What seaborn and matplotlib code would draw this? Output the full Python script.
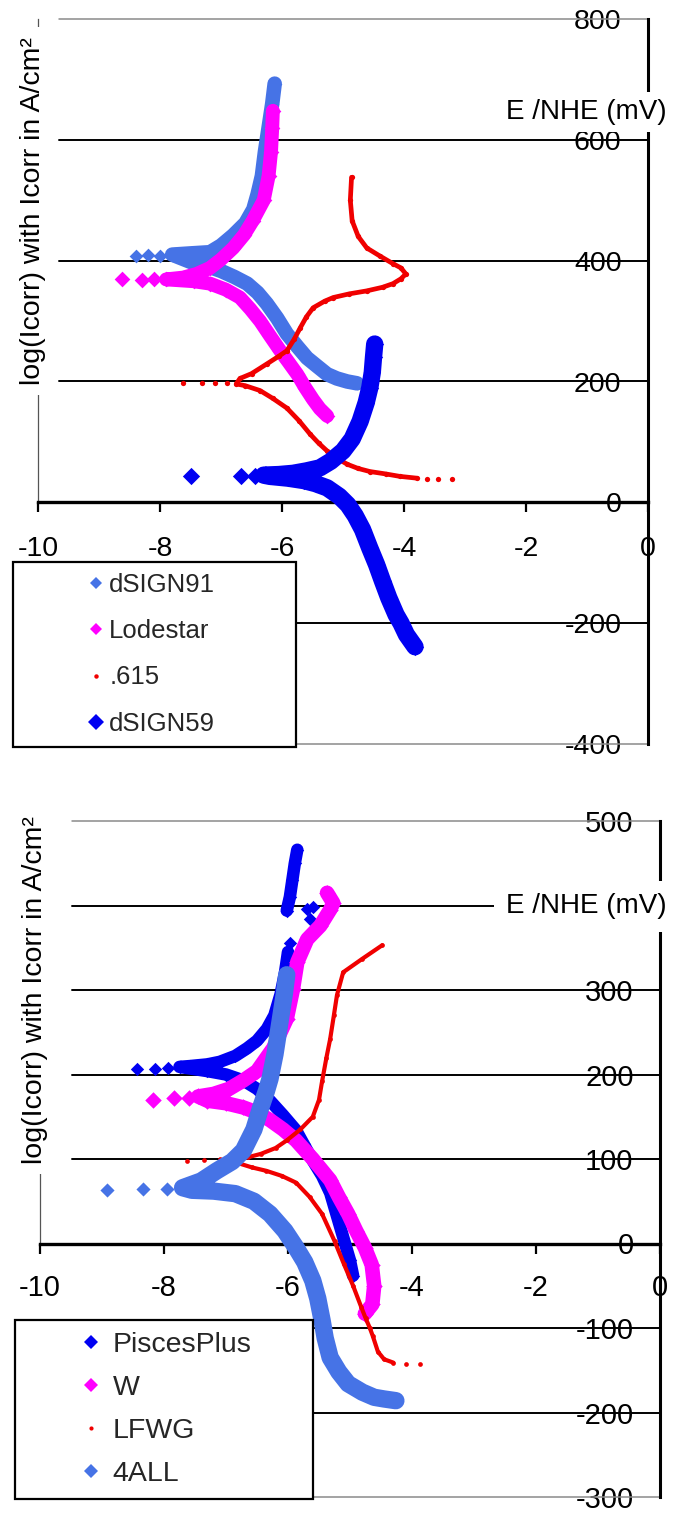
import matplotlib
matplotlib.use("Agg")
import matplotlib.pyplot as plt
import numpy as np
import pandas as pd
import seaborn as sns
from matplotlib.lines import Line2D

# ------------------------------------------------------------------ data
# x = log(Icorr) [A/cm2], E = potential vs NHE [mV]
# ---- top panel
d91_cat_x = [-4.77, -4.93, -5.10, -5.26, -5.42, -5.59, -5.75, -5.92, -6.08, -6.25, -6.40, -6.57, -6.78, -7.00, -7.25, -7.50]
d91_cat_E = [197, 200, 205, 212, 225, 239, 258, 279, 305, 329, 347, 362, 373, 383, 392, 398]
d91_eco_x = [-8.40, -8.20, -8.00]
d91_eco_E = [407, 409, 408]
d91_ano_x = [-7.80, -7.50, -7.18, -7.00, -6.80, -6.60, -6.47, -6.40, -6.33, -6.28, -6.22, -6.16, -6.12]
d91_ano_E = [410, 412, 414, 425, 442, 462, 485, 510, 540, 580, 620, 660, 693]

lod_cat_x = [-5.26, -5.38, -5.49, -5.62, -5.75, -5.90, -6.03, -6.20, -6.36, -6.52, -6.69, -6.92, -7.18, -7.45]
lod_cat_E = [143, 155, 170, 190, 212, 233, 251, 276, 300, 320, 339, 352, 362, 366]
lod_eco_x = [-8.62, -8.30, -8.10]
lod_eco_E = [370, 368, 369]
lod_ano_x = [-7.90, -7.62, -7.40, -7.18, -7.00, -6.80, -6.62, -6.48, -6.30, -6.22, -6.18, -6.16, -6.15]
lod_ano_E = [369, 372, 378, 388, 402, 421, 443, 466, 500, 540, 580, 620, 648]

r615_cat_x = [-3.79, -4.07, -4.30, -4.56, -4.75, -4.93, -5.10, -5.26, -5.40, -5.54, -5.72, -5.92, -6.15, -6.36, -6.60, -6.75]
r615_cat_E = [40, 43, 47, 51, 56, 63, 73, 85, 98, 113, 135, 156, 172, 185, 193, 196]
r615_eco_x = [-3.21, -3.44, -3.62, -7.62, -7.31, -7.10, -6.90]
r615_eco_E = [38, 38, 38, 197, 197, 197, 197]
r615_ano_x = [-6.69, -6.50, -6.25, -6.05, -5.92, -5.80, -5.70, -5.60, -5.49, -5.30, -5.16, -4.90, -4.61, -4.35,
              -4.18, -4.05, -3.97, -4.05, -4.18, -4.40, -4.61, -4.75, -4.85, -4.88, -4.86]
r615_ano_E = [205, 213, 229, 242, 251, 270, 289, 307, 322, 333, 339, 345, 350, 356,
              362, 370, 378, 388, 395, 408, 421, 440, 466, 500, 538]

d59_cat_x = [-3.82, -3.96, -4.05, -4.13, -4.25, -4.35, -4.45, -4.56, -4.68, -4.80, -4.92, -5.06, -5.26, -5.45, -5.64, -5.90, -6.20]
d59_cat_E = [-239, -219, -200, -186, -158, -131, -103, -76, -45, -22, -4, 10, 24, 31, 36, 40, 43]
d59_eco_x = [-7.49, -6.67, -6.45]
d59_eco_E = [43, 43, 44]
d59_ano_x = [-6.30, -6.05, -5.82, -5.60, -5.38, -5.20, -5.00, -4.85, -4.72, -4.62, -4.56, -4.52, -4.50, -4.48]
d59_ano_E = [45, 46, 48, 52, 57, 68, 85, 105, 134, 165, 190, 215, 240, 262]

# ---- bottom panel
pis_cat_x = [-4.95, -5.00, -5.08, -5.20, -5.32, -5.45, -5.60, -5.75, -5.87, -6.08, -6.29, -6.50, -6.72, -7.00, -7.30]
pis_cat_E = [-38, -20, 0, 30, 60, 80, 98, 118, 134, 152, 169, 183, 193, 200, 204]
pis_eco_x = [-8.44, -8.15, -7.94, -5.97, -5.65, -5.69, -5.60]
pis_eco_E = [207, 206, 208, 356, 384, 396, 398]
pis_ano_x = [-7.75, -7.58, -7.30, -7.10, -6.85, -6.66, -6.50, -6.34, -6.22, -6.12, -6.05, -6.00]
pis_ano_E = [209, 210, 212, 215, 222, 231, 240, 254, 270, 295, 320, 345]
pis_top_x = [-6.02, -5.97, -5.93, -5.89, -5.85]
pis_top_E = [394, 410, 430, 450, 466]

w_cat_x = [-4.76, -4.64, -4.61, -4.65, -4.76, -4.90, -5.03, -5.18, -5.32, -5.60, -5.87, -6.08, -6.29, -6.50, -6.72, -7.00, -7.30]
w_cat_E = [-83, -72, -50, -25, -5, 15, 35, 55, 75, 100, 122, 135, 146, 155, 161, 166, 169]
w_eco_x = [-8.18, -7.84, -7.60]
w_eco_E = [170, 172, 172]
w_ano_x = [-7.45, -7.20, -6.95, -6.72, -6.50, -6.24, -6.02, -5.92, -5.85, -5.69, -5.48, -5.32, -5.27, -5.37]
w_ano_E = [174, 177, 183, 193, 204, 231, 266, 301, 333, 360, 376, 395, 403, 415]

lf_cat_x = [-4.30, -4.45, -4.55, -4.63, -4.68, -4.75, -4.82, -4.95, -5.10, -5.25, -5.45, -5.65, -5.87, -6.10, -6.35, -6.58, -6.80]
lf_cat_E = [-141, -137, -128, -110, -100, -88, -75, -50, -24, 3, 35, 55, 72, 80, 86, 90, 95]
lf_eco_x = [-3.87, -4.10, -7.63, -7.35, -7.10]
lf_eco_E = [-143, -143, 98, 99, 100]
lf_ano_x = [-6.90, -6.65, -6.44, -6.20, -6.02, -5.80, -5.60, -5.50, -5.45, -5.38, -5.32, -5.26, -5.21, -5.11, -4.80, -4.48]
lf_ano_E = [100, 102, 106, 113, 122, 135, 150, 170, 192, 220, 242, 270, 294, 321, 337, 353]

all4_cat_x = [-4.26, -4.45, -4.61, -4.80, -5.03, -5.18, -5.32, -5.40, -5.45, -5.52, -5.60, -5.73, -5.87, -6.05, -6.29, -6.55, -6.85, -7.20, -7.55]
all4_cat_E = [-186, -184, -182, -176, -166, -152, -135, -112, -91, -65, -44, -22, -5, 15, 35, 50, 59, 62, 63]
all4_eco_x = [-8.92, -8.34, -7.95]
all4_eco_E = [63, 64, 65]
all4_ano_x = [-7.70, -7.40, -7.15, -6.90, -6.72, -6.55, -6.44, -6.35, -6.29, -6.21, -6.13, -6.06, -6.02]
all4_ano_E = [66, 74, 86, 97, 110, 135, 161, 180, 195, 224, 262, 295, 318]

top_names = ["dSIGN91", "Lodestar", ".615", "dSIGN59"]
bot_names = ["PiscesPlus", "W", "LFWG", "4ALL"]
xticks = [-10, -8, -6, -4, -2, 0]
top_yticks = [-400, -200, 0, 200, 400, 600, 800]
bot_yticks = [-300, -200, -100, 0, 100, 200, 300, 400, 500]
top_ylabels = ["-400", "-200", "0", "200", "400", "600", "800"]
bot_ylabels = ["-300", "-200", "-100", "0", "100", "200", "300", "", "500"]  # 400 hidden under title box
xlabel_text = "log(Icorr) with Icorr in A/cm²"
ylabel_text = "E /NHE (mV)"

# ------------------------------------------------------------------ styles
LBLUE, MAG, RED, DBLUE = "#4673E6", "#FF00FF", "#F00000", "#0000F2"

top_series = [
    ("dSIGN91", [(d91_cat_x + d91_ano_x, d91_cat_E + d91_ano_E)], (d91_eco_x, d91_eco_E)),
    ("Lodestar", [(lod_cat_x + lod_ano_x, lod_cat_E + lod_ano_E)], (lod_eco_x, lod_eco_E)),
    (".615", [(r615_cat_x + r615_ano_x, r615_cat_E + r615_ano_E)], (r615_eco_x, r615_eco_E)),
    ("dSIGN59", [(d59_cat_x + d59_ano_x, d59_cat_E + d59_ano_E)], (d59_eco_x, d59_eco_E)),
]
bot_series = [
    ("PiscesPlus", [(pis_cat_x + pis_ano_x, pis_cat_E + pis_ano_E), (pis_top_x, pis_top_E)], (pis_eco_x, pis_eco_E)),
    ("W", [(w_cat_x + w_ano_x, w_cat_E + w_ano_E)], (w_eco_x, w_eco_E)),
    ("LFWG", [(lf_cat_x + lf_ano_x, lf_cat_E + lf_ano_E)], (lf_eco_x, lf_eco_E)),
    ("4ALL", [(all4_cat_x + all4_ano_x, all4_cat_E + all4_ano_E)], (all4_eco_x, all4_eco_E)),
]
STY = {
    "dSIGN91": dict(color=LBLUE, lw=10.5, ms=7.0, marker="D", lms=6.6),
    "Lodestar": dict(color=MAG, lw=10, ms=8.0, marker="D", lms=6.6),
    ".615": dict(color=RED, lw=3.4, ms=3.8, marker="o", lms=3.2),
    "dSIGN59": dict(color=DBLUE, lw=12.5, ms=8.8, marker="D", lms=8.4),
    "PiscesPlus": dict(color=DBLUE, lw=9, ms=6.8, marker="D", lms=7.2),
    "W": dict(color=MAG, lw=10.5, ms=8.4, marker="D", lms=7.2),
    "LFWG": dict(color=RED, lw=3.0, ms=3.4, marker="o", lms=3.0),
    "4ALL": dict(color=LBLUE, lw=12.5, ms=7.2, marker="D", lms=7.2),
}

sns.set_theme(style="white")
plt.rcParams["font.family"] = ["Liberation Sans", "DejaVu Sans"]
plt.rcParams["axes.unicode_minus"] = False

W_PX, H_PX = 673, 1520
fig = plt.figure(figsize=(W_PX / 100, H_PX / 100), dpi=100)


def fx(px):
    return px / W_PX


def fy(py):
    return 1 - py / H_PX


def panel(ax, series, ylim, yticks, ylabels, fs_tick, xpad, grid_start, lab_cy, nhe_pos, nhe_pad,
          leg_box, leg_fs, leg_hl, leg_htp, leg_ls):
    for i, (name, dense, sparse) in enumerate(series):
        st = STY[name]
        z = 3 + i
        for bx, bE in dense:
            df = pd.DataFrame({"logi": bx, "E": bE})
            sns.lineplot(data=df, x="logi", y="E", sort=False, estimator=None, ax=ax,
                         color=st["color"], linewidth=st["lw"], zorder=z,
                         solid_joinstyle="round", solid_capstyle="round", legend=False)
        allx = [v for bx, _ in dense for v in bx] + list(sparse[0])
        allE = [v for _, bE in dense for v in bE] + list(sparse[1])
        pts = pd.DataFrame({"logi": allx, "E": allE})
        sns.scatterplot(data=pts, x="logi", y="E", ax=ax, marker=st["marker"],
                        s=st["ms"] ** 2, color=st["color"], linewidth=0, zorder=z, legend=False)

    ax.set_xlim(-10, 0)
    ax.set_ylim(*ylim)
    ax.set_xticks(xticks)
    ax.set_yticks(yticks)
    ax.set_yticklabels(ylabels)
    ax.set_xlabel("")
    ax.set_ylabel("")
    ax.set_facecolor("none")

    # gridlines
    for y in yticks:
        if y == 0:
            continue
        edge = y in (ylim[0], ylim[1])
        ax.axhline(y, xmin=grid_start, xmax=1, color="#8a8a8a" if edge else "black",
                   lw=1.1 if edge else 1.4, zorder=1, clip_on=False)

    # spines
    ax.spines["top"].set_visible(False)
    ax.spines["bottom"].set_position(("data", 0))
    ax.spines["bottom"].set_color("black")
    ax.spines["bottom"].set_linewidth(2.4)
    ax.spines["right"].set_visible(True)
    ax.spines["right"].set_color("black")
    ax.spines["right"].set_linewidth(2.2)
    ax.spines["left"].set_visible(True)
    ax.spines["left"].set_bounds(0, ylim[1])
    ax.spines["left"].set_color("#555555")
    ax.spines["left"].set_linewidth(0.9)

    ax.xaxis.set_ticks_position("bottom")
    ax.tick_params(axis="x", direction="out", length=7, width=1.6, color="black",
                   pad=xpad, labelsize=fs_tick, labelcolor="black", bottom=True)
    ax.yaxis.set_ticks_position("right")
    ax.tick_params(axis="y", length=0, pad=-19, labelsize=fs_tick, labelcolor="black",
                   labelright=True, labelleft=False, right=True, left=False)
    for t in ax.get_yticklabels():
        t.set_horizontalalignment("right")

    # rotated axis title (x quantity), drawn at left like the original
    ax.text(-0.008, lab_cy, xlabel_text, rotation=90, transform=ax.transAxes,
            ha="center", va="center", fontsize=20.5, color="black", zorder=8,
            bbox=dict(boxstyle="square,pad=0.35", fc="white", ec="none"), clip_on=False)
    # potential axis title at right
    ax.text(nhe_pos[0], nhe_pos[1], ylabel_text, transform=ax.transAxes, ha="right", va="center",
            fontsize=20, color="black", zorder=8,
            bbox=dict(boxstyle="square,pad=%.2f" % nhe_pad, fc="white", ec="none"), clip_on=False)

    handles = [Line2D([], [], ls="none", marker=STY[n]["marker"], color=STY[n]["color"],
                      markersize=STY[n]["lms"], markeredgewidth=0) for n, _, _ in series]
    labels = [n for n, _, _ in series]
    leg = ax.legend(handles, labels, loc="upper left", bbox_to_anchor=leg_box,
                    bbox_transform=fig.transFigure, mode="expand", frameon=True, fancybox=False,
                    edgecolor="black", facecolor="white", framealpha=1, fontsize=leg_fs,
                    handlelength=leg_hl, handletextpad=leg_htp, labelspacing=leg_ls,
                    borderpad=0.42, borderaxespad=0, numpoints=1)
    leg.get_frame().set_linewidth(1.6)
    leg.set_zorder(20)


ax1 = fig.add_axes([fx(38), fy(744), fx(648) - fx(38), fy(19) - fy(744)])
ax2 = fig.add_axes([fx(40), fy(1497), fx(660) - fx(40), fy(821) - fy(1497)])

panel(ax1, top_series, (-400, 800), top_yticks, top_ylabels, 20.5, 17, 0.034, 0.735,
      ((667 - 38) / 610, (744 - 112) / 725), 0.25,
      (fx(13), fy(770), fx(296) - fx(13), fy(562) - fy(770)), 18.5, 5.62, -2.29, 0.87)
panel(ax2, bot_series, (-300, 500), bot_yticks, bot_ylabels, 21, 15, 0.052, 0.75,
      ((667 - 40) / 620, (1497 - 906) / 676), 0.45,
      (fx(15), 0.0, fx(313) - fx(15), fy(1320)), 20.5, 4.53, -1.53, 0.6)

fig.savefig("out.png", dpi=100)
